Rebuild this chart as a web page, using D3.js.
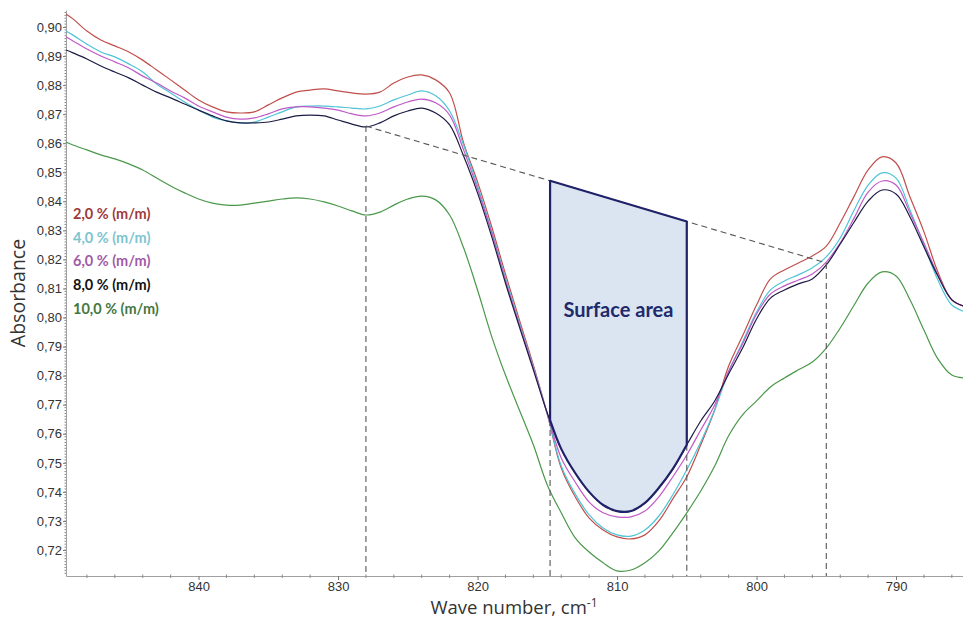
<!DOCTYPE html>
<html><head><meta charset="utf-8">
<script src="https://cdn.jsdelivr.net/npm/d3@7"></script>
<style>body{margin:0;background:#fff}</style></head>
<body><svg id="c" width="963" height="618"></svg>
<script>
const waveNumbers = [849.5,849,848,847,846,845,844,843,842,841,
 840,839,838,837,836,835,834,833,832,831,
 830,829,828,827,826,825,824,823,822,821,
 820,819,818,817,816,815,814,813,812,811,
 810,809,808,807,806,805,804,803,802,801,
 800,799,798,797,796,795,794,793,792,791,
 790,789,788,787,786,785];
const abs2 = [0.9045,0.9028,0.8986,0.8955,0.8935,0.8914,0.8886,0.8852,0.8818,0.8783,
 0.8749,0.8725,0.8708,0.8704,0.8708,0.8732,0.8756,0.8776,0.8783,0.8787,
 0.8780,0.8773,0.8769,0.8776,0.8807,0.8828,0.8835,0.8818,0.8773,0.8601,
 0.8467,0.8315,0.8150,0.7992,0.7837,0.7668,0.7482,0.7383,0.7310,0.7269,
 0.7245,0.7238,0.7252,0.7300,0.7376,0.7452,0.7562,0.7682,0.7833,0.7937,
 0.8043,0.8133,0.8164,0.8188,0.8212,0.8246,0.8326,0.8418,0.8508,0.8553,
 0.8532,0.8415,0.8295,0.8157,0.8061,0.8037];
const abs4 = [0.8986,0.8972,0.8941,0.8914,0.8897,0.8873,0.8845,0.8804,0.8773,0.8742,
 0.8714,0.8690,0.8677,0.8670,0.8673,0.8690,0.8708,0.8725,0.8728,0.8728,
 0.8725,0.8721,0.8718,0.8728,0.8749,0.8766,0.8780,0.8763,0.8711,0.8594,
 0.8453,0.8301,0.8136,0.7981,0.7830,0.7668,0.7489,0.7393,0.7321,0.7276,
 0.7252,0.7248,0.7269,0.7317,0.7390,0.7476,0.7572,0.7682,0.7813,0.7916,
 0.8019,0.8095,0.8126,0.8147,0.8171,0.8209,0.8274,0.8370,0.8456,0.8498,
 0.8480,0.8370,0.8250,0.8129,0.8043,0.8019];
const abs6 = [0.8966,0.8952,0.8924,0.8900,0.8880,0.8859,0.8831,0.8807,0.8780,0.8756,
 0.8728,0.8708,0.8690,0.8683,0.8687,0.8701,0.8718,0.8725,0.8725,0.8721,
 0.8714,0.8701,0.8694,0.8704,0.8725,0.8742,0.8752,0.8739,0.8697,0.8577,
 0.8443,0.8295,0.8129,0.7975,0.7827,0.7668,0.7517,0.7434,0.7365,0.7328,
 0.7314,0.7314,0.7334,0.7383,0.7452,0.7527,0.7613,0.7699,0.7816,0.7909,
 0.8012,0.8081,0.8109,0.8129,0.8150,0.8191,0.8257,0.8343,0.8432,0.8470,
 0.8456,0.8360,0.8257,0.8147,0.8061,0.8037];
const abs8 = [0.8921,0.8911,0.8890,0.8866,0.8845,0.8825,0.8800,0.8776,0.8756,0.8735,
 0.8714,0.8694,0.8677,0.8670,0.8670,0.8673,0.8683,0.8694,0.8697,0.8694,
 0.8680,0.8666,0.8656,0.8670,0.8694,0.8711,0.8721,0.8704,0.8663,0.8556,
 0.8429,0.8281,0.8119,0.7968,0.7820,0.7672,0.7548,0.7465,0.7400,0.7355,
 0.7334,0.7334,0.7362,0.7414,0.7479,0.7562,0.7644,0.7713,0.7806,0.7895,
 0.7995,0.8067,0.8095,0.8116,0.8133,0.8181,0.8253,0.8329,0.8401,0.8439,
 0.8425,0.8346,0.8243,0.8143,0.8061,0.8037];
const abs10 = [0.8604,0.8594,0.8577,0.8560,0.8546,0.8529,0.8508,0.8480,0.8453,0.8429,
 0.8408,0.8394,0.8387,0.8387,0.8394,0.8401,0.8408,0.8412,0.8408,0.8398,
 0.8384,0.8367,0.8353,0.8363,0.8387,0.8408,0.8418,0.8405,0.8353,0.8240,
 0.8095,0.7937,0.7802,0.7682,0.7562,0.7424,0.7328,0.7242,0.7193,0.7156,
 0.7128,0.7131,0.7156,0.7197,0.7259,0.7328,0.7403,0.7489,0.7593,0.7665,
 0.7713,0.7761,0.7792,0.7820,0.7847,0.7895,0.7964,0.8043,0.8119,0.8157,
 0.8143,0.8061,0.7957,0.7858,0.7802,0.7792];
const seriesNames = ["2,0 % (m/m)","4,0 % (m/m)","6,0 % (m/m)","8,0 % (m/m)","10,0 % (m/m)"];
const seriesValues = [abs2, abs4, abs6, abs8, abs10];
const lineColors = ["#c0504d","#4fc4d6","#c05ac8","#1c1c44","#4a984a"];
const legendColors = ["#9e3a3a","#7cc5cf","#a05aa8","#111111","#44773f"];
const yTicks = [0.72,0.73,0.74,0.75,0.76,0.77,0.78,0.79,0.80,0.81,0.82,0.83,0.84,0.85,0.86,0.87,0.88,0.89,0.90];
const xTicks = [840,830,820,810,800,790];
const baselineWave = [828, 795];
const baselineAbs = [0.8659, 0.8188];
const areaLimits = [814.8, 805];
const areaLabel = "Surface area";

const svg = d3.select("#c");
const x = d3.scaleLinear().domain([849.5, 785.2]).range([66, 963]);
const y = d3.scaleLinear().domain([0.71105, 0.90585]).range([576, 10]);
const fmt = v => d3.format(".2f")(v).replace(".", ",");

svg.append("defs").append("clipPath").attr("id","clip")
  .append("rect").attr("x",66).attr("y",0).attr("width",897).attr("height",576);

// y axis
const yAxis = svg.append("g").attr("transform","translate(66,0)")
  .call(d3.axisLeft(y).tickValues(yTicks).tickFormat(fmt).tickSize(3).tickSizeOuter(0));
yAxis.select(".domain").attr("stroke","#a0a0a0");
yAxis.selectAll(".tick line").attr("stroke","#777");
yAxis.selectAll(".tick text").attr("font-family","Liberation Sans, Arial").attr("font-size","13px").attr("fill","#333").attr("x",-4);
const yMinor = d3.range(0.712, 0.9055, 0.001);
svg.append("g").selectAll("line").data(yMinor).join("line")
  .attr("x1",64.5).attr("x2",66).attr("y1",d=>y(d)).attr("y2",d=>y(d))
  .attr("stroke","#888").attr("stroke-width",1);

// x axis
const xAxis = svg.append("g").attr("transform","translate(0,576)")
  .call(d3.axisBottom(x).tickValues(xTicks).tickFormat(d3.format("d")).tickSize(4).tickSizeOuter(0));
xAxis.select(".domain").attr("stroke","#a0a0a0");
xAxis.selectAll(".tick line").attr("stroke","#777");
xAxis.selectAll(".tick text").attr("font-family","Liberation Sans, Arial").attr("font-size","13px").attr("fill","#333").attr("y",6).attr("dy","0.71em");
const xMinor = d3.range(848, 785, -2).filter(v => v % 10 !== 0);
svg.append("g").selectAll("line").data(xMinor).join("line")
  .attr("x1",d=>x(d)).attr("x2",d=>x(d)).attr("y1",574.5).attr("y2",578)
  .attr("stroke","#888").attr("stroke-width",1);

// titles
svg.append("text").attr("transform","translate(25,293) rotate(-90)")
  .attr("text-anchor","middle").attr("font-family","Open Sans, sans-serif").attr("font-size","19.5px").attr("fill","#333")
  .text("Absorbance");
const xt = svg.append("text").attr("x",514).attr("y",614).attr("text-anchor","middle")
  .attr("font-family","Open Sans, sans-serif").attr("font-size","18.5px").attr("fill","#333");
xt.append("tspan").text("Wave number, cm");
xt.append("tspan").attr("dy","-7").attr("font-size","12px").text("-1");

const plot = svg.append("g").attr("clip-path","url(#clip)");

const line = d3.line().x(d=>x(d[0])).y(d=>y(d[1])).curve(d3.curveCatmullRom);
seriesValues.forEach((vals,i) => {
  plot.append("path").datum(waveNumbers.map((w,j)=>[w, vals[j]]))
    .attr("d", line).attr("fill","none").attr("stroke", lineColors[i]).attr("stroke-width",1.2);
});

const baseAt = w => baselineAbs[0] + (w - baselineWave[0]) * (baselineAbs[1]-baselineAbs[0])/(baselineWave[1]-baselineWave[0]);
const interp = (vals, w) => {
  for (let j=0;j<waveNumbers.length-1;j++){
    const a=waveNumbers[j], b=waveNumbers[j+1];
    if (w<=a && w>=b) return vals[j] + (vals[j+1]-vals[j])*(a-w)/(a-b);
  }
  return vals[vals.length-1];
};
function dashed(x1,y1,x2,y2){
  plot.append("line").attr("x1",x1).attr("y1",y1).attr("x2",x2).attr("y2",y2)
    .attr("stroke","#555").attr("stroke-width",1.1).attr("stroke-dasharray","6,4").attr("fill","none");
}
dashed(x(baselineWave[0]), y(baselineAbs[0]), x(baselineWave[1]), y(baselineAbs[1]));
baselineWave.forEach(w => dashed(x(w), y(baseAt(w)), x(w), 576));
areaLimits.forEach(w => dashed(x(w), y(interp(abs8, w)), x(w), 576));

const bottomPts = [[areaLimits[1], interp(abs8, areaLimits[1])]]
  .concat(waveNumbers.map((w,j)=>[w, abs8[j]]).filter(p => p[0] < areaLimits[0] && p[0] > areaLimits[1]).reverse())
  .concat([[areaLimits[0], interp(abs8, areaLimits[0])]]);
const bottomPath = line(bottomPts).replace(/^M/, "L");
const polyPath = "M" + x(areaLimits[0]) + "," + y(baseAt(areaLimits[0])) +
  "L" + x(areaLimits[1]) + "," + y(baseAt(areaLimits[1])) + bottomPath + "Z";
plot.append("path").attr("d", polyPath).attr("fill","#dbe5f1").attr("stroke","#1f2268").attr("stroke-width",2.2).attr("stroke-linejoin","round");

svg.append("text").attr("x", x((areaLimits[0]+areaLimits[1])/2)).attr("y", 317).attr("text-anchor","middle")
  .attr("font-family","Lato, sans-serif").attr("font-weight","bold").attr("font-size","20px").attr("fill","#1f2a6b")
  .text(areaLabel);

seriesNames.forEach((n,i) => {
  svg.append("text").attr("x",73).attr("y",219 + i*23.7)
    .attr("font-family","Lato, sans-serif").attr("font-weight","bold").attr("font-size","14.5px")
    .attr("fill", legendColors[i]).text(n);
});
</script></body></html>
